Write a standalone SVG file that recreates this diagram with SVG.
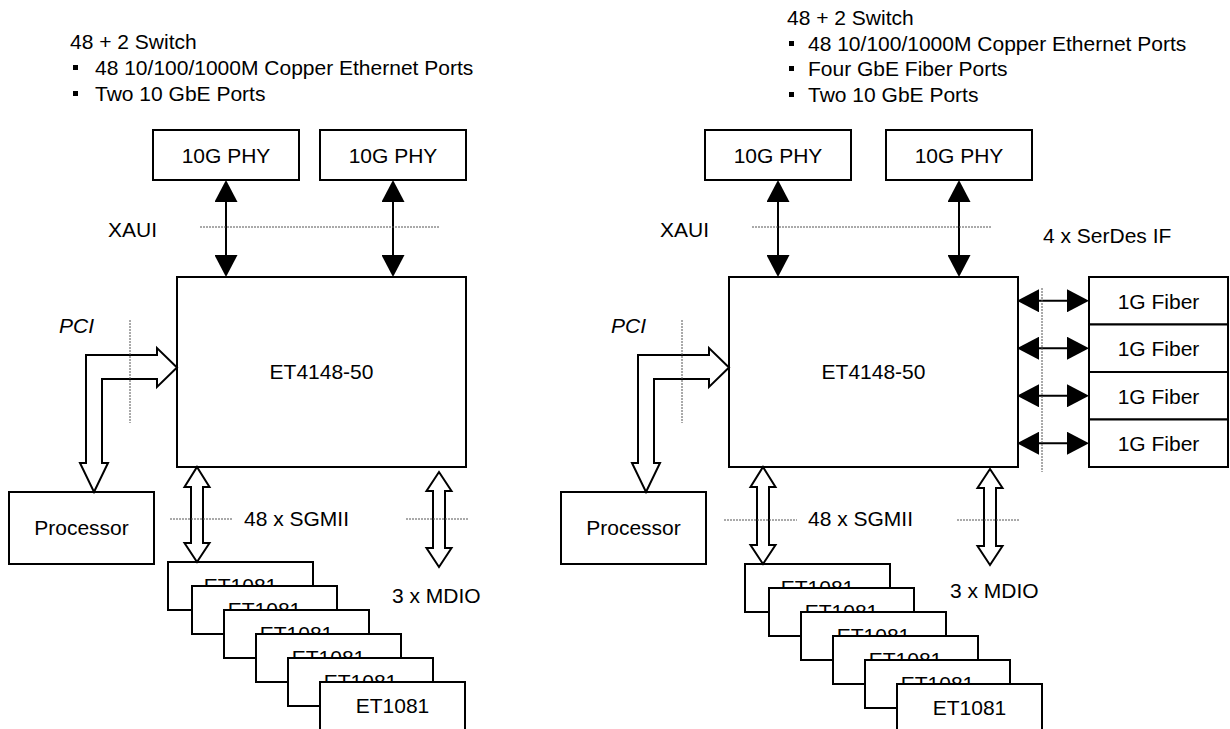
<svg xmlns="http://www.w3.org/2000/svg" width="1230" height="729" viewBox="0 0 1230 729">
<defs>
<style>
text { font-family: "Liberation Sans", Arial, sans-serif; font-size: 21px; fill: #000; }
.box { fill: #fff; stroke: #000; stroke-width: 2; }
.c { text-anchor: middle; }
.it { font-style: italic; }
.dot { stroke: #555; stroke-width: 1; stroke-dasharray: 2 1; fill: none; }
.hollow { fill: #fff; stroke: #000; stroke-width: 2; stroke-linejoin: miter; }
.solid { stroke: #000; stroke-width: 2; fill: none; marker-start: url(#ah); marker-end: url(#ah); }
.bul { fill: #000; }
</style>
<marker id="ah" markerUnits="userSpaceOnUse" markerWidth="22" markerHeight="23" viewBox="0 0 22 23" refX="19" refY="11.5" orient="auto-start-reverse"><path d="M0,0 L22,11.5 L0,23 z" fill="#000"/></marker>
</defs>
<rect width="1230" height="729" fill="#fff"/>

<g id="header-left">
<text x="70" y="49">48 + 2 Switch</text>
<rect class="bul" x="73" y="65" width="5" height="5"/>
<text x="95" y="75">48 10/100/1000M Copper Ethernet Ports</text>
<rect class="bul" x="73" y="91" width="5" height="5"/>
<text x="95" y="101">Two 10 GbE Ports</text>
</g>
<g id="header-right">
<text x="787" y="25">48 + 2 Switch</text>
<rect class="bul" x="789" y="41" width="5" height="5"/>
<text x="808" y="51">48 10/100/1000M Copper Ethernet Ports</text>
<rect class="bul" x="789" y="66" width="5" height="5"/>
<text x="808" y="76">Four GbE Fiber Ports</text>
<rect class="bul" x="789" y="92" width="5" height="5"/>
<text x="808" y="102">Two 10 GbE Ports</text>
</g>

<!-- Left diagram nodes -->
<g id="phy1-left"><rect class="box" x="153" y="130" width="146" height="50"/><text class="c" x="226" y="162.5">10G PHY</text></g>
<g id="phy2-left"><rect class="box" x="320" y="130" width="146" height="50"/><text class="c" x="393" y="162.5">10G PHY</text></g>
<g id="switch-left"><rect class="box" x="177" y="277" width="289" height="190"/><text class="c" x="321.5" y="379">ET4148-50</text></g>
<g id="proc-left"><rect class="box" x="9" y="492" width="145" height="72"/><text class="c" x="81.5" y="535">Processor</text></g>
<g id="et1081-left-1"><rect class="box" x="168" y="562" width="145" height="48"/><text class="c" x="240.5" y="593">ET1081</text></g>
<g id="et1081-left-2"><rect class="box" x="192" y="586" width="145" height="48"/><text class="c" x="264.5" y="617">ET1081</text></g>
<g id="et1081-left-3"><rect class="box" x="224" y="610" width="145" height="48"/><text class="c" x="296.5" y="641">ET1081</text></g>
<g id="et1081-left-4"><rect class="box" x="256" y="634" width="145" height="48"/><text class="c" x="328.5" y="665">ET1081</text></g>
<g id="et1081-left-5"><rect class="box" x="288" y="658" width="145" height="48"/><text class="c" x="360.5" y="689">ET1081</text></g>
<g id="et1081-left-6"><rect class="box" x="320" y="682" width="145" height="48"/><text class="c" x="392.5" y="713">ET1081</text></g>

<!-- Right diagram nodes -->
<g id="phy1-right"><rect class="box" x="705" y="130" width="146" height="50"/><text class="c" x="778" y="162.5">10G PHY</text></g>
<g id="phy2-right"><rect class="box" x="886" y="130" width="146" height="50"/><text class="c" x="959" y="162.5">10G PHY</text></g>
<g id="switch-right"><rect class="box" x="729" y="277" width="289" height="190"/><text class="c" x="873.5" y="379">ET4148-50</text></g>
<g id="proc-right"><rect class="box" x="561" y="492" width="145" height="72"/><text class="c" x="633.5" y="535">Processor</text></g>
<g id="fiber-1"><rect class="box" x="1089" y="277" width="139" height="47.5"/><text class="c" x="1158.5" y="308.5">1G Fiber</text></g>
<g id="fiber-2"><rect class="box" x="1089" y="324.5" width="139" height="47.5"/><text class="c" x="1158.5" y="356">1G Fiber</text></g>
<g id="fiber-3"><rect class="box" x="1089" y="372" width="139" height="47.5"/><text class="c" x="1158.5" y="403.5">1G Fiber</text></g>
<g id="fiber-4"><rect class="box" x="1089" y="419.5" width="139" height="47.5"/><text class="c" x="1158.5" y="451">1G Fiber</text></g>
<g id="et1081-right-1"><rect class="box" x="745" y="564" width="145" height="48"/><text class="c" x="817.5" y="595">ET1081</text></g>
<g id="et1081-right-2"><rect class="box" x="769" y="588" width="145" height="48"/><text class="c" x="841.5" y="619">ET1081</text></g>
<g id="et1081-right-3"><rect class="box" x="801" y="612" width="145" height="48"/><text class="c" x="873.5" y="643">ET1081</text></g>
<g id="et1081-right-4"><rect class="box" x="833" y="636" width="145" height="48"/><text class="c" x="905.5" y="667">ET1081</text></g>
<g id="et1081-right-5"><rect class="box" x="865" y="660" width="145" height="48"/><text class="c" x="937.5" y="691">ET1081</text></g>
<g id="et1081-right-6"><rect class="box" x="897" y="684" width="145" height="48"/><text class="c" x="969.5" y="715">ET1081</text></g>

<g id="connectors">
<line class="solid" x1="226" y1="183" x2="226" y2="274"/>
<line class="solid" x1="393" y1="183" x2="393" y2="274"/>
<polygon class="hollow" points="94,492 108,463 102,463 102,379 157,379 157,387 177,367.5 157,348 157,355 86,355 86,463 80,463"/>
<polygon class="hollow" points="197,467 209.5,487 203,487 203,543 209.5,543 197,562 184.5,543 191,543 191,487 184.5,487"/>
<polygon class="hollow" points="439,472 451.5,491 445,491 445,548 451.5,548 439,567 426.5,548 433,548 433,491 426.5,491"/>
<line class="solid" x1="778" y1="183" x2="778" y2="274"/>
<line class="solid" x1="959" y1="183" x2="959" y2="274"/>
<polygon class="hollow" points="646,492 660,463 654,463 654,379 709,379 709,387 729,367.5 709,348 709,355 638,355 638,463 632,463"/>
<polygon class="hollow" points="763,467 775.5,487 769,487 769,545 775.5,545 763,564 750.5,545 757,545 757,487 750.5,487"/>
<polygon class="hollow" points="990,469 1002.5,488 996,488 996,546 1002.5,546 990,565 977.5,546 984,546 984,488 977.5,488"/>
<line class="solid" x1="1020" y1="300.75" x2="1086" y2="300.75"/>
<line class="solid" x1="1020" y1="348.25" x2="1086" y2="348.25"/>
<line class="solid" x1="1020" y1="395.75" x2="1086" y2="395.75"/>
<line class="solid" x1="1020" y1="443.25" x2="1086" y2="443.25"/>
</g>

<g id="boundaries">
<line class="dot" x1="200" y1="227" x2="440" y2="227"/>
<line class="dot" x1="130" y1="320" x2="130" y2="423"/>
<line class="dot" x1="170" y1="519" x2="233" y2="519"/>
<line class="dot" x1="406" y1="519" x2="468" y2="519"/>
<line class="dot" x1="752" y1="227" x2="992" y2="227"/>
<line class="dot" x1="682" y1="320" x2="682" y2="423"/>
<line class="dot" x1="724" y1="520" x2="797" y2="520"/>
<line class="dot" x1="957" y1="520" x2="1020" y2="520"/>
<line class="dot" x1="1042" y1="288" x2="1042" y2="472"/>
</g>

<g id="labels">
<text x="108" y="237">XAUI</text>
<text class="it" x="59" y="333">PCI</text>
<text x="244" y="526">48 x SGMII</text>
<text x="392" y="603">3 x MDIO</text>
<text x="660" y="237">XAUI</text>
<text class="it" x="611" y="333">PCI</text>
<text x="808" y="526">48 x SGMII</text>
<text x="950" y="598">3 x MDIO</text>
<text x="1043" y="243">4 x SerDes IF</text>
</g>
</svg>
